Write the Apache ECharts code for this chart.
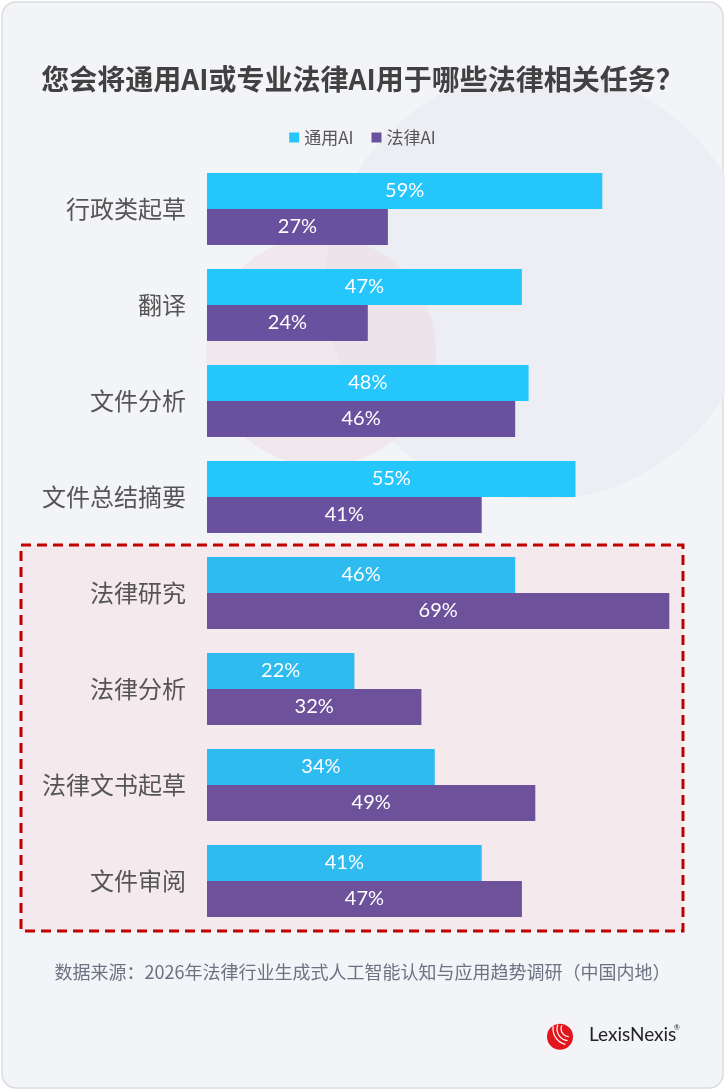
<!DOCTYPE html>
<html>
<head>
<meta charset="utf-8">
<script src="https://cdn.jsdelivr.net/npm/echarts@6/dist/echarts.min.js"></script>
<style>
  html, body { margin: 0; padding: 0; background: #ffffff; }
  #chart { width: 725px; height: 1090px; }
</style>
</head>
<body>
<div id="chart"></div>
<script>
// 数据
var categories = ['行政类起草', '翻译', '文件分析', '文件总结摘要', '法律研究', '法律分析', '法律文书起草', '文件审阅'];
var generalAI = [59, 47, 48, 55, 46, 22, 34, 41];
var legalAI = [27, 24, 46, 41, 69, 32, 49, 47];
var seriesNames = ['通用AI', '法律AI'];
var titleText = '您会将通用AI或专业法律AI用于哪些法律相关任务？';
var sourceText = '数据来源：2026年法律行业生成式人工智能认知与应用趋势调研（中国内地）';

var chart = echarts.init(document.getElementById('chart'));

var cyan = '#24C6FC', cyanBox = '#2EBBEF';
var purple = '#6A519F', purpleBox = '#6D519B';

// 虚线框内的柱子颜色略有不同
function barColor(base, boxed) {
  return function (p) { return p.dataIndex >= 4 ? boxed : base; };
}

var labelStyle = {
  show: true,
  position: 'inside',
  color: '#ffffff',
  fontFamily: 'Lato',
  fontSize: 20,
  formatter: '{c}%'
};

var option = {
  backgroundColor: '#ffffff',
  title: {
    text: titleText,
    left: 'center',
    top: 60,
    textStyle: {
      fontFamily: 'Noto Sans CJK SC',
      fontSize: 28,
      fontWeight: 'bold',
      color: '#414141'
    }
  },
  legend: {
    data: [
      { name: seriesNames[0], itemStyle: { color: cyan } },
      { name: seriesNames[1], itemStyle: { color: purple } }
    ],
    top: 124,
    left: 'center',
    icon: 'rect',
    itemWidth: 10,
    itemHeight: 10,
    itemGap: 18,
    textStyle: { fontFamily: 'Noto Sans CJK SC', fontSize: 17, color: '#555555' }
  },
  grid: { left: 207, right: 49, top: 161, bottom: 161, containLabel: false },
  xAxis: {
    type: 'value',
    min: 0,
    max: 70,
    show: false
  },
  yAxis: {
    type: 'category',
    data: categories,
    inverse: true,
    axisLine: { show: false },
    axisTick: { show: false },
    axisLabel: {
      margin: 21,
      fontFamily: 'Noto Sans CJK SC',
      fontSize: 24,
      color: '#555555'
    }
  },
  graphic: [
    // 卡片背景
    { type: 'rect', z: -10, shape: { x: 2, y: 2, width: 721, height: 1086, r: 14 },
      style: { fill: '#F3F4F7', stroke: '#DCDDE1', lineWidth: 1.5 } },
    { type: 'circle', z: -9, shape: { cx: 540, cy: 285, r: 215 },
      style: { fill: '#EDEEF4' } },
    { type: 'circle', z: -9, shape: { cx: 321, cy: 351, r: 115 },
      style: { fill: 'rgba(236, 200, 212, 0.28)' } },
    // 虚线框
    { type: 'rect', z: -5, shape: { x: 21, y: 545, width: 662, height: 386 },
      style: { fill: '#F4E9EC', stroke: '#C00000', lineWidth: 3, lineDash: [10, 6] } },
    // 数据来源
    { type: 'text', left: 'center', top: 963,
      style: { text: sourceText, fontFamily: 'Noto Sans CJK SC', fontSize: 18, fill: '#6B7280' } },
    // LexisNexis 标志
    { type: 'group', left: 547, top: 1022, children: [
      { type: 'circle', shape: { cx: 13, cy: 14, r: 13 }, style: { fill: '#E2161D' } },
      { type: 'arc', shape: { cx: 22, cy: 6, r: 8, startAngle: 1.6, endAngle: 3.6 }, style: { stroke: '#ffffff', lineWidth: 1.2, fill: null } },
      { type: 'arc', shape: { cx: 22, cy: 6, r: 12, startAngle: 1.7, endAngle: 3.5 }, style: { stroke: '#ffffff', lineWidth: 1.2, fill: null } },
      { type: 'arc', shape: { cx: 22, cy: 6, r: 16, startAngle: 1.8, endAngle: 3.3 }, style: { stroke: '#ffffff', lineWidth: 1.2, fill: null } },
      { type: 'text', left: 42, top: 3, style: { text: 'LexisNexis', fontFamily: 'Lato', fontSize: 19, fill: '#222222' } },
      { type: 'text', left: 127, top: 2, style: { text: '®', fontFamily: 'Lato', fontSize: 7, fill: '#222222' } }
    ] }
  ],
  series: [
    {
      name: seriesNames[0],
      type: 'bar',
      data: generalAI,
      barGap: '0%',
      barCategoryGap: '25%',
      itemStyle: { color: barColor(cyan, cyanBox) },
      label: labelStyle
    },
    {
      name: seriesNames[1],
      type: 'bar',
      data: legalAI,
      barGap: '0%',
      barCategoryGap: '25%',
      itemStyle: { color: barColor(purple, purpleBox) },
      label: labelStyle
    }
  ]
};

chart.setOption(option);
</script>
</body>
</html>
